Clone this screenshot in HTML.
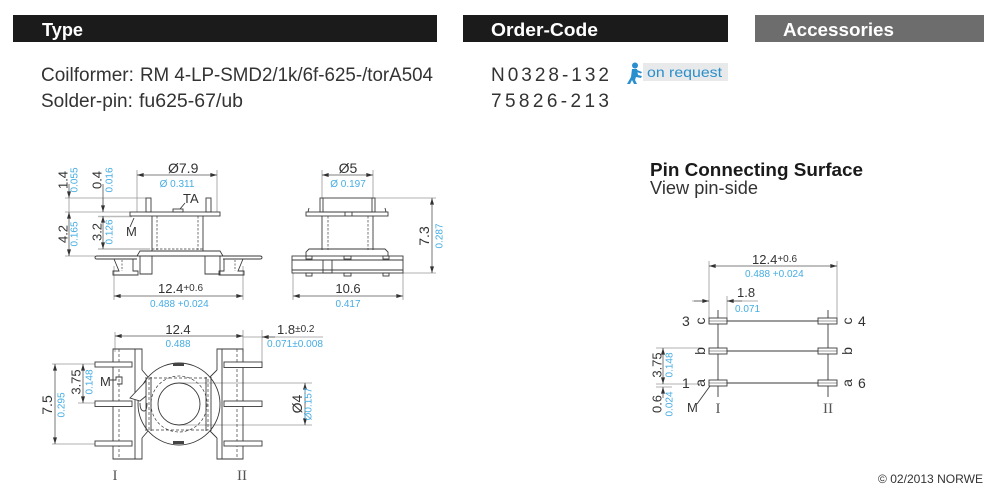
<!DOCTYPE html>
<html><head><meta charset="utf-8"><style>
html,body{margin:0;padding:0;background:#fff;}
svg{display:block;}
text{font-family:"Liberation Sans",Arial,sans-serif;}
.s{font-family:"Liberation Serif",serif;}
</style></head><body>
<svg width="1000" height="502" viewBox="0 0 1000 502" xmlns="http://www.w3.org/2000/svg">
<defs>
<marker id="ar" viewBox="0 0 10 6" refX="10" refY="3" markerWidth="7" markerHeight="4" orient="auto-start-reverse" markerUnits="userSpaceOnUse"><path d="M0,0L10,3L0,6z" fill="#333"/></marker>
</defs>

<!-- Header bars -->
<rect x="13" y="15" width="424" height="27" fill="#1b1b1b"/>
<rect x="463" y="15" width="265" height="27" fill="#1b1b1b"/>
<rect x="755" y="15" width="229" height="27" fill="#6d6d6d"/>
<text x="42" y="36" font-size="18" font-weight="bold" fill="#fff" textLength="41" lengthAdjust="spacingAndGlyphs">Type</text>
<text x="491" y="36" font-size="18" font-weight="bold" fill="#fff" textLength="107" lengthAdjust="spacingAndGlyphs">Order-Code</text>
<text x="783" y="36" font-size="18" font-weight="bold" fill="#fff" textLength="111" lengthAdjust="spacingAndGlyphs">Accessories</text>

<!-- Type text -->
<g fill="#333" font-size="19">
<text x="41" y="81">Coilformer:</text>
<text x="140" y="81" textLength="293" lengthAdjust="spacingAndGlyphs">RM 4-LP-SMD2/1k/6f-625-/torA504</text>
<text x="41" y="107">Solder-pin:</text>
<text x="139" y="107" textLength="104" lengthAdjust="spacingAndGlyphs">fu625-67/ub</text>
<text x="491" y="81" textLength="118" lengthAdjust="spacing">N0328-132</text>
<text x="491" y="107" textLength="118" lengthAdjust="spacing">75826-213</text>
</g>

<!-- on request -->
<rect x="643" y="63" width="85" height="18" fill="#e8e9eb"/>
<text x="647" y="77" font-size="14" fill="#2b8fca" textLength="75" lengthAdjust="spacingAndGlyphs">on request</text>
<g fill="#2a8fcf">
<circle cx="635" cy="65.5" r="3"/>
<path d="M632 69 L637 69 L638 75 L642 76 L641 78 L636 77 L635 80 L637 84 L634 84 L632 80 L630 84 L627 84 L631 77 Z"/>
<path d="M637 70 L642 72 L641 73.5 L637 72 Z"/>
</g>

<!-- Pin Connecting Surface -->
<text x="650" y="176" font-size="18" font-weight="bold" fill="#1a1a1a" textLength="213" lengthAdjust="spacingAndGlyphs">Pin Connecting Surface</text>
<text x="650" y="194" font-size="18" fill="#333" textLength="108" lengthAdjust="spacingAndGlyphs">View pin-side</text>

<!-- footer -->
<text x="878" y="483" font-size="12" fill="#333" textLength="105" lengthAdjust="spacingAndGlyphs">© 02/2013 NORWE</text>

<!-- ================= TOP-LEFT DRAWING ================= -->
<g fill="none" stroke="#999" stroke-width="0.8">
<path d="M65 198H146M65 212H130M65 256H95"/>
<path d="M98 216.5H132M98 249H150" stroke="#bbb" stroke-width="1.4"/>
<path d="M137 170V212M217 170V212"/>
<path d="M114 266V300M243 266V300"/>
<path d="M69 198V212M103 198V212"/>
</g>
<g fill="none" stroke="#555" stroke-width="0.8">
<path d="M69 184V198" marker-end="url(#ar)"/>
<path d="M69 212V256" marker-start="url(#ar)" marker-end="url(#ar)"/>
<path d="M103 184V212" marker-end="url(#ar)"/>
<path d="M103 216V249" marker-start="url(#ar)" marker-end="url(#ar)"/>
<path d="M137 175H217" marker-start="url(#ar)" marker-end="url(#ar)"/>
<path d="M114 296H243" marker-start="url(#ar)" marker-end="url(#ar)"/>
</g>
<g fill="none" stroke="#3a3a3a" stroke-width="0.9">
<rect x="146" y="198" width="5" height="14"/>
<rect x="206" y="198" width="5" height="14"/>
<rect x="173" y="209" width="10" height="3"/>
<path d="M180 209L185 203"/>
<rect x="130" y="212" width="90" height="4"/>
<path d="M152 216V251M203 216V251"/>
<path d="M157 216V250M198 216V250" stroke-dasharray="2.5 1.5" stroke-width="0.7"/>
<path d="M152 249H203" stroke-dasharray="2.5 1.5" stroke-width="0.7"/>
<path d="M137 256L140 251H220L223 256Z"/>
<path d="M137 256H97Q95 256 95 257.5Q95 259 97 259H137"/>
<path d="M223 256H260Q262 256 262 257.5Q262 259 260 259H223"/>
<path d="M140 256V274H152V256M205 256V274H220V256"/>
<path d="M114 259L119 271H113V275H138V271H133V259"/>
<path d="M122 260V271" stroke-dasharray="2 1.5" stroke-width="0.7"/>
<path d="M243 259L238 271H244V275H219V271H224V259"/>
<path d="M235 260V271" stroke-dasharray="2 1.5" stroke-width="0.7"/>
<path d="M134 218L130 227"/>
</g>
<g fill="#333" font-size="13">
<text x="168" y="173" font-size="14">Ø7.9</text>
<text x="183" y="203">TA</text>
<text x="126" y="236">M</text>
<text x="158" y="293">12.4<tspan font-size="10" dy="-2">+0.6</tspan></text>
<text transform="translate(63,180) rotate(-90)" text-anchor="middle" dominant-baseline="central">1.4</text>
<text transform="translate(63,234) rotate(-90)" text-anchor="middle" dominant-baseline="central">4.2</text>
<text transform="translate(97,180) rotate(-90)" text-anchor="middle" dominant-baseline="central">0.4</text>
<text transform="translate(97,232) rotate(-90)" text-anchor="middle" dominant-baseline="central">3.2</text>
</g>
<g fill="#46ade3" font-size="10">
<text x="177" y="187" text-anchor="middle">Ø 0.311</text>
<text x="150" y="307">0.488 +0.024</text>
<text transform="translate(75,180) rotate(-90)" text-anchor="middle" dominant-baseline="central">0.055</text>
<text transform="translate(75,234) rotate(-90)" text-anchor="middle" dominant-baseline="central">0.165</text>
<text transform="translate(110,180) rotate(-90)" text-anchor="middle" dominant-baseline="central">0.016</text>
<text transform="translate(110,232) rotate(-90)" text-anchor="middle" dominant-baseline="central">0.126</text>
</g>

<!-- ================= TOP-RIGHT DRAWING ================= -->
<g fill="none" stroke="#999" stroke-width="0.8">
<path d="M322 170V198M373 170V198"/>
<path d="M375 198H436M403 273H436"/>
<path d="M293 273V300M403 273V300"/>
</g>
<g fill="none" stroke="#555" stroke-width="0.8">
<path d="M322 175H373" marker-start="url(#ar)" marker-end="url(#ar)"/>
<path d="M432 198V273" marker-start="url(#ar)" marker-end="url(#ar)"/>
<path d="M293 296H403" marker-start="url(#ar)" marker-end="url(#ar)"/>
</g>
<g fill="none" stroke="#3a3a3a" stroke-width="0.9">
<rect x="320" y="198" width="55" height="14"/>
<path d="M323 198V212M372 198V212"/>
<rect x="306" y="212" width="82" height="4"/>
<path d="M308 212L309 208M386 212L385 208M345 212V216M352 212V216"/>
<path d="M322 216V250M373 216V250"/>
<path d="M328 216V250M368 216V250" stroke-dasharray="2.5 1.5" stroke-width="0.7"/>
<path d="M306 256V252L309 249H385L388 252V256"/>
<rect x="292" y="256" width="111" height="17"/>
<path d="M292 260H403M292 270H403"/>
<rect x="323" y="260" width="9" height="13"/>
<rect x="306" y="256" width="6" height="3"/>
<rect x="344" y="256" width="7" height="3"/>
<rect x="383" y="256" width="6" height="3"/>
<rect x="306" y="273" width="6" height="3"/>
<rect x="344" y="273" width="7" height="3"/>
<rect x="383" y="273" width="6" height="3"/>
</g>
<g fill="#333" font-size="13">
<text x="348" y="173" text-anchor="middle" font-size="14">Ø5</text>
<text x="348" y="293" text-anchor="middle">10.6</text>
<text transform="translate(424,236) rotate(-90)" text-anchor="middle" dominant-baseline="central" font-size="14">7.3</text>
</g>
<g fill="#46ade3" font-size="10">
<text x="348" y="187" text-anchor="middle">Ø 0.197</text>
<text x="348" y="307" text-anchor="middle">0.417</text>
<text transform="translate(440,236) rotate(-90)" text-anchor="middle" dominant-baseline="central">0.287</text>
</g>

<!-- ================= BOTTOM DRAWING ================= -->
<g fill="none" stroke="#999" stroke-width="0.8">
<path d="M115 332V352M243 330V352M262 330V368"/>
<path d="M243 337H323"/>
<path d="M179 383H312M179 425H312"/>
<path d="M52 364H95M52 444H95M78 403H95"/>
</g>
<g fill="none" stroke="#555" stroke-width="0.8">
<path d="M115 336H243" marker-start="url(#ar)" marker-end="url(#ar)"/>
<path d="M275 337H262" marker-end="url(#ar)"/>
<path d="M305 383V425" marker-start="url(#ar)" marker-end="url(#ar)"/>
<path d="M55 364V444" marker-start="url(#ar)" marker-end="url(#ar)"/>
<path d="M83 364V403" marker-start="url(#ar)" marker-end="url(#ar)"/>
</g>
<g fill="none" stroke="#3a3a3a" stroke-width="0.9">
<!-- circle -->
<circle cx="179" cy="404" r="41"/>
<circle cx="179" cy="404" r="21"/>
<circle cx="179" cy="404" r="28" stroke-dasharray="3 2" stroke-width="0.7"/>
<rect x="149" y="378" width="59" height="52" stroke-dasharray="3 2" stroke-width="0.7"/>
<!-- left frame -->
<path d="M142 370V349H113V459H142V438"/>
<path d="M142 370L148 377M142 438L148 431"/>
<path d="M135 349V459"/>
<path d="M119 349V459" stroke-dasharray="3 2" stroke-width="0.7"/>
<path d="M146 377V431M151 377V431"/>
<!-- right frame -->
<path d="M217 370V349H243V459H217V438"/>
<path d="M217 370L210 377M217 438L210 431"/>
<path d="M222 349V459"/>
<path d="M237 349V459" stroke-dasharray="3 2" stroke-width="0.7"/>
<path d="M206 377V431M211 377V431"/>
<!-- wedge & notch -->
<path d="M130 398L146 381V396L140 401Z" fill="#fff"/>
<path d="M140 403Q140 411 144 411Q147 411 147 403"/>
<path d="M110 380H116V377H122V384H117" />
</g>
<g fill="#fff" stroke="#3a3a3a" stroke-width="0.9">
<rect x="95" y="362" width="37" height="5"/>
<rect x="95" y="401" width="37" height="5.5"/>
<rect x="95" y="441" width="37" height="5"/>
<rect x="224" y="362" width="38" height="5.5"/>
<rect x="224" y="401" width="38" height="5.5"/>
<rect x="224" y="441" width="38" height="5"/>
</g>
<g fill="#444">
<rect x="173" y="363" width="11" height="3"/>
<rect x="173" y="441" width="11" height="3"/>
</g>
<g fill="#333" font-size="13">
<text x="178" y="334" text-anchor="middle">12.4</text>
<text x="277" y="334">1.8<tspan font-size="10" dy="-2">±0.2</tspan></text>
<text x="100" y="386">M</text>
<text transform="translate(47,405) rotate(-90)" text-anchor="middle" dominant-baseline="central" font-size="14">7.5</text>
<text transform="translate(76,382) rotate(-90)" text-anchor="middle" dominant-baseline="central">3.75</text>
<text transform="translate(297,404) rotate(-90)" text-anchor="middle" dominant-baseline="central" font-size="14">Ø4</text>
</g>
<g fill="#46ade3" font-size="10">
<text x="178" y="347" text-anchor="middle">0.488</text>
<text x="267" y="347" textLength="56" lengthAdjust="spacingAndGlyphs">0.071±0.008</text>
<text transform="translate(62,405) rotate(-90)" text-anchor="middle" dominant-baseline="central">0.295</text>
<text transform="translate(90,382) rotate(-90)" text-anchor="middle" dominant-baseline="central">0.148</text>
<text transform="translate(309,404) rotate(-90)" text-anchor="middle" dominant-baseline="central">Ø0.157</text>
</g>
<g fill="#555" font-size="15" class="s">
<text x="115" y="480" text-anchor="middle" class="s">I</text>
<text x="242" y="480" text-anchor="middle" class="s">II</text>
</g>

<!-- ================= PIN CONNECTING SURFACE ================= -->
<g fill="none" stroke="#999" stroke-width="0.8">
<path d="M709 261V318M837 261V318M727 296V318"/>
<path d="M692 301H709M727 301H758"/>
<path d="M656 348H700M656 384H700M656 387H672"/>
</g>
<g fill="none" stroke="#555" stroke-width="0.8">
<path d="M709 266H837" marker-start="url(#ar)" marker-end="url(#ar)"/>
<path d="M694 301H709" marker-end="url(#ar)"/>
<path d="M742 301H727" marker-end="url(#ar)"/>
<path d="M663 348V384" marker-start="url(#ar)" marker-end="url(#ar)"/>
<path d="M663 398V387" marker-end="url(#ar)"/>
</g>
<g fill="none" stroke="#3a3a3a" stroke-width="0.9">
<path d="M718 310V397M828 310V397"/>
<path d="M727 321H818M727 351H818M727 383H818"/>
<path d="M697 404L710 386"/>
</g>
<g fill="#fff" stroke="#3a3a3a" stroke-width="0.9">
<rect x="709" y="318" width="18" height="6"/>
<rect x="709" y="348" width="18" height="6"/>
<rect x="709" y="380" width="18" height="6"/>
<rect x="818" y="318" width="19" height="6"/>
<rect x="818" y="348" width="19" height="6"/>
<rect x="818" y="380" width="19" height="6"/>
</g>
<g stroke="#3a3a3a" stroke-width="0.6">
<path d="M709 321H727M709 351H727M709 383H727M818 321H837M818 351H837M818 383H837"/>
</g>
<g fill="#333" font-size="14">
<text x="752" y="264" font-size="13">12.4<tspan font-size="10" dy="-2">+0.6</tspan></text>
<text x="737" y="297" font-size="13">1.8</text>
<text x="682" y="326">3</text>
<text x="682" y="388">1</text>
<text x="858" y="326">4</text>
<text x="858" y="388">6</text>
<text transform="translate(700,321) rotate(-90)" text-anchor="middle" dominant-baseline="central">c</text>
<text transform="translate(700,351) rotate(-90)" text-anchor="middle" dominant-baseline="central">b</text>
<text transform="translate(700,383) rotate(-90)" text-anchor="middle" dominant-baseline="central">a</text>
<text transform="translate(847,321) rotate(-90)" text-anchor="middle" dominant-baseline="central">c</text>
<text transform="translate(847,351) rotate(-90)" text-anchor="middle" dominant-baseline="central">b</text>
<text transform="translate(847,383) rotate(-90)" text-anchor="middle" dominant-baseline="central">a</text>
<text x="687" y="412" font-size="13">M</text>
<text transform="translate(657,365) rotate(-90)" text-anchor="middle" dominant-baseline="central" font-size="13">3.75</text>
<text transform="translate(657,404) rotate(-90)" text-anchor="middle" dominant-baseline="central" font-size="13">0.6</text>
</g>
<g fill="#46ade3" font-size="10">
<text x="745" y="277">0.488 +0.024</text>
<text x="735" y="312">0.071</text>
<text transform="translate(670,365) rotate(-90)" text-anchor="middle" dominant-baseline="central">0.148</text>
<text transform="translate(670,404) rotate(-90)" text-anchor="middle" dominant-baseline="central">0.024</text>
</g>
<g fill="#555" font-size="15">
<text x="718" y="413" text-anchor="middle" class="s">I</text>
<text x="828" y="413" text-anchor="middle" class="s">II</text>
</g>
</svg>
</body></html>
